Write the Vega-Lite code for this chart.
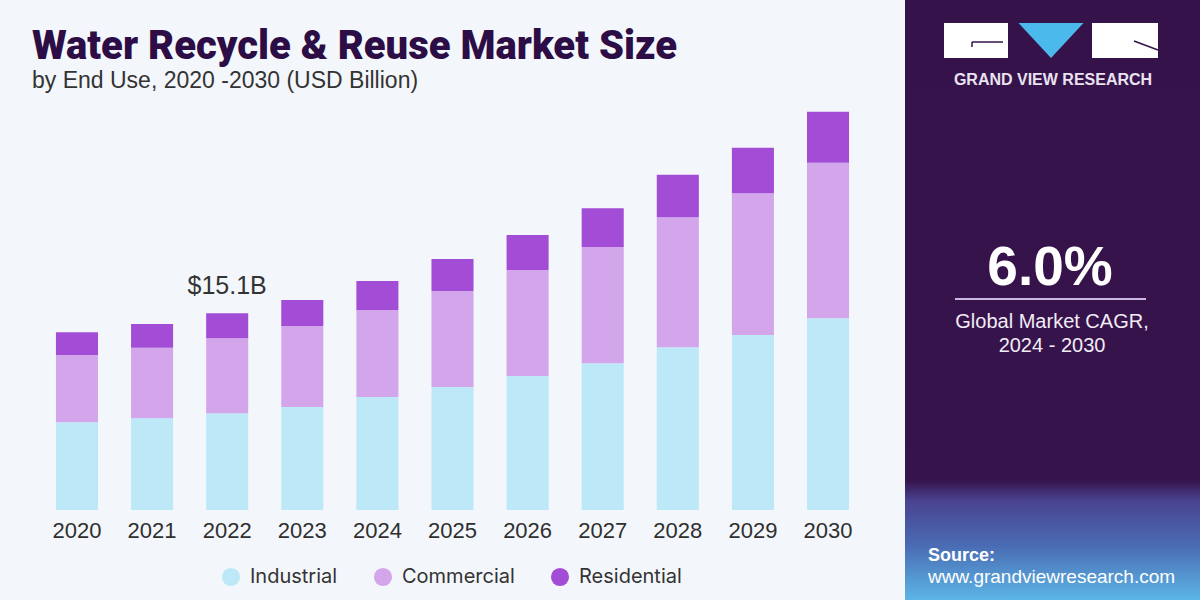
{
  "$schema": "https://vega.github.io/schema/vega-lite/v6.json",
  "background": "#f3f7fb",
  "padding": 0,
  "spacing": 0,
  "config": {"view": {"stroke": null}, "font": "Liberation Sans"},
  "datasets": {
    "segments": [
      {"segment": "Industrial", "rank": 1},
      {"segment": "Commercial", "rank": 2},
      {"segment": "Residential", "rank": 3}
    ]
  },
  "hconcat": [
    {
      "width": 905,
      "height": 510,
      "data": {"values": [
        {"year": "2020", "segment": "Industrial", "value": 6.73},
        {"year": "2020", "segment": "Commercial", "value": 5.17},
        {"year": "2020", "segment": "Residential", "value": 1.74},
        {"year": "2021", "segment": "Industrial", "value": 7.04},
        {"year": "2021", "segment": "Commercial", "value": 5.42},
        {"year": "2021", "segment": "Residential", "value": 1.82},
        {"year": "2022", "segment": "Industrial", "value": 7.42},
        {"year": "2022", "segment": "Commercial", "value": 5.76},
        {"year": "2022", "segment": "Residential", "value": 1.92},
        {"year": "2023", "segment": "Industrial", "value": 7.9},
        {"year": "2023", "segment": "Commercial", "value": 6.22},
        {"year": "2023", "segment": "Residential", "value": 2.0},
        {"year": "2024", "segment": "Industrial", "value": 8.67},
        {"year": "2024", "segment": "Commercial", "value": 6.68},
        {"year": "2024", "segment": "Residential", "value": 2.23},
        {"year": "2025", "segment": "Industrial", "value": 9.44},
        {"year": "2025", "segment": "Commercial", "value": 7.37},
        {"year": "2025", "segment": "Residential", "value": 2.46},
        {"year": "2026", "segment": "Industrial", "value": 10.28},
        {"year": "2026", "segment": "Commercial", "value": 8.14},
        {"year": "2026", "segment": "Residential", "value": 2.69},
        {"year": "2027", "segment": "Industrial", "value": 11.26},
        {"year": "2027", "segment": "Commercial", "value": 8.93},
        {"year": "2027", "segment": "Residential", "value": 2.97},
        {"year": "2028", "segment": "Industrial", "value": 12.49},
        {"year": "2028", "segment": "Commercial", "value": 9.98},
        {"year": "2028", "segment": "Residential", "value": 3.25},
        {"year": "2029", "segment": "Industrial", "value": 13.43},
        {"year": "2029", "segment": "Commercial", "value": 10.87},
        {"year": "2029", "segment": "Residential", "value": 3.5},
        {"year": "2030", "segment": "Industrial", "value": 14.71},
        {"year": "2030", "segment": "Commercial", "value": 11.94},
        {"year": "2030", "segment": "Residential", "value": 3.91}
      ]},
      "title": {
        "text": "Water Recycle & Reuse Market Size",
        "subtitle": "by End Use, 2020 -2030 (USD Billion)",
        "anchor": "start",
        "frame": "group",
        "orient": "top",
        "offset": -93,
        "dx": 32,
        "font": "Roboto",
        "fontSize": 40,
        "fontWeight": 900,
        "color": "#2d0d45",
        "subtitleFont": "Liberation Sans",
        "subtitleFontSize": 23,
        "subtitleColor": "#333333",
        "subtitlePadding": 3
      },
      "layer": [
        {
          "transform": [
            {"lookup": "segment", "from": {"data": {"name": "segments"}, "key": "segment", "fields": ["rank"]}}
          ],
          "mark": {"type": "bar"},
          "encoding": {
            "x": {
              "field": "year",
              "type": "ordinal",
              "scale": {"paddingInner": 0.44, "paddingOuter": 0.745},
              "axis": {
                "title": null,
                "labelAngle": 0,
                "ticks": false,
                "domain": false,
                "labelFont": "Liberation Sans",
                "labelFontSize": 22,
                "labelColor": "#2f2f2f",
                "labelPadding": 10
              }
            },
            "y": {
              "field": "value",
              "type": "quantitative",
              "stack": "zero",
              "scale": {"domain": [0, 39.14], "nice": false},
              "axis": null
            },
            "order": {"field": "rank", "type": "quantitative", "sort": "ascending"},
            "color": {
              "field": "segment",
              "type": "nominal",
              "sort": ["Industrial", "Commercial", "Residential"],
              "scale": {
                "domain": ["Industrial", "Commercial", "Residential"],
                "range": ["#bde8f8", "#d3a5eb", "#a34dd6"]
              },
              "legend": {
                "title": null,
                "orient": "none",
                "legendX": 221,
                "legendY": 567,
                "direction": "horizontal",
                "padding": 0,
                "symbolType": "circle",
                "symbolSize": 330,
                "symbolStrokeWidth": 0,
                "labelFont": "Inter",
                "labelFontSize": 20,
                "labelColor": "#333333",
                "labelOffset": 9,
                "columnPadding": 35
              }
            }
          }
        },
        {
          "transform": [
            {"filter": "datum.year == '2022'"},
            {"aggregate": [{"op": "sum", "field": "value", "as": "total"}], "groupby": ["year"]}
          ],
          "mark": {"type": "text", "baseline": "alphabetic", "dy": -19, "fontSize": 25, "color": "#333333", "font": "Liberation Sans"},
          "encoding": {
            "x": {"field": "year", "type": "ordinal"},
            "y": {"field": "total", "type": "quantitative"},
            "text": {"value": "$15.1B"}
          }
        }
      ]
    },
    {
      "width": 295,
      "height": 600,
      "data": {"values": [{}]},
      "layer": [
        {
          "mark": {"type": "rect", "fill": {"gradient": "linear", "x1": 0, "y1": 0, "x2": 0, "y2": 1, "stops": [
            {"offset": 0, "color": "#35124a"},
            {"offset": 0.8, "color": "#36134b"},
            {"offset": 0.835, "color": "#4a4390"},
            {"offset": 0.91, "color": "#4a6cb4"},
            {"offset": 1, "color": "#5cb6e6"}
          ]}},
          "encoding": {
            "x": {"datum": 0, "type": "quantitative", "scale": {"domain": [0, 295], "nice": false, "zero": false}, "axis": null},
            "x2": {"datum": 295},
            "y": {"datum": 0, "type": "quantitative", "scale": {"domain": [0, 600], "nice": false, "zero": false, "reverse": true}, "axis": null},
            "y2": {"datum": 600}
          }
        },
        {
          "mark": {"type": "rect", "fill": "#ffffff"},
          "encoding": {
            "x": {"datum": 39, "type": "quantitative"},
            "x2": {"datum": 103},
            "y": {"datum": 23, "type": "quantitative"},
            "y2": {"datum": 58}
          }
        },
        {
          "mark": {"type": "rect", "fill": "#ffffff"},
          "encoding": {
            "x": {"datum": 187, "type": "quantitative"},
            "x2": {"datum": 253},
            "y": {"datum": 23, "type": "quantitative"},
            "y2": {"datum": 58}
          }
        },
        {
          "mark": {"type": "point", "shape": "M-1,-0.54L1,-0.54L0,0.54Z", "size": 4225, "filled": true, "fill": "#4cb9ec", "opacity": 1, "strokeWidth": 0},
          "encoding": {
            "x": {"datum": 146, "type": "quantitative"},
            "y": {"datum": 40.5, "type": "quantitative"}
          }
        },
        {
          "mark": {"type": "rule", "stroke": "#35124a", "strokeWidth": 1.5},
          "encoding": {
            "x": {"datum": 67, "type": "quantitative"},
            "x2": {"datum": 98},
            "y": {"datum": 42, "type": "quantitative"}
          }
        },
        {
          "mark": {"type": "rule", "stroke": "#35124a", "strokeWidth": 1.5},
          "encoding": {
            "x": {"datum": 67, "type": "quantitative"},
            "y": {"datum": 42, "type": "quantitative"},
            "y2": {"datum": 47}
          }
        },
        {
          "mark": {"type": "rule", "stroke": "#35124a", "strokeWidth": 1.5},
          "encoding": {
            "x": {"datum": 229, "type": "quantitative"},
            "x2": {"datum": 253},
            "y": {"datum": 41, "type": "quantitative"},
            "y2": {"datum": 50}
          }
        },
        {
          "mark": {"type": "text", "text": "GRAND VIEW RESEARCH", "font": "Liberation Sans", "fontWeight": "bold", "fontSize": 16, "letterSpacing": 2.3, "color": "#e9e2f1", "align": "center", "baseline": "alphabetic"},
          "encoding": {
            "x": {"datum": 148, "type": "quantitative"},
            "y": {"datum": 85, "type": "quantitative"}
          }
        },
        {
          "mark": {"type": "text", "text": "6.0%", "font": "Liberation Sans", "fontWeight": "bold", "fontSize": 55, "color": "#ffffff", "align": "center", "baseline": "alphabetic"},
          "encoding": {
            "x": {"datum": 145, "type": "quantitative"},
            "y": {"datum": 285, "type": "quantitative"}
          }
        },
        {
          "mark": {"type": "rule", "stroke": "#cbb8e2", "strokeWidth": 2},
          "encoding": {
            "x": {"datum": 50, "type": "quantitative"},
            "x2": {"datum": 241},
            "y": {"datum": 299, "type": "quantitative"}
          }
        },
        {
          "mark": {"type": "text", "text": ["Global Market CAGR,", "2024 - 2030"], "lineHeight": 24, "font": "Liberation Sans", "fontSize": 20, "color": "#f2ecf7", "align": "center", "baseline": "alphabetic"},
          "encoding": {
            "x": {"datum": 147, "type": "quantitative"},
            "y": {"datum": 328, "type": "quantitative"}
          }
        },
        {
          "mark": {"type": "text", "text": "Source:", "font": "Liberation Sans", "fontWeight": "bold", "fontSize": 18, "color": "#ffffff", "align": "left", "baseline": "alphabetic"},
          "encoding": {
            "x": {"datum": 23, "type": "quantitative"},
            "y": {"datum": 561, "type": "quantitative"}
          }
        },
        {
          "mark": {"type": "text", "text": "www.grandviewresearch.com", "font": "Liberation Sans", "fontSize": 19, "color": "#ffffff", "align": "left", "baseline": "alphabetic"},
          "encoding": {
            "x": {"datum": 23, "type": "quantitative"},
            "y": {"datum": 583, "type": "quantitative"}
          }
        }
      ]
    }
  ]
}
